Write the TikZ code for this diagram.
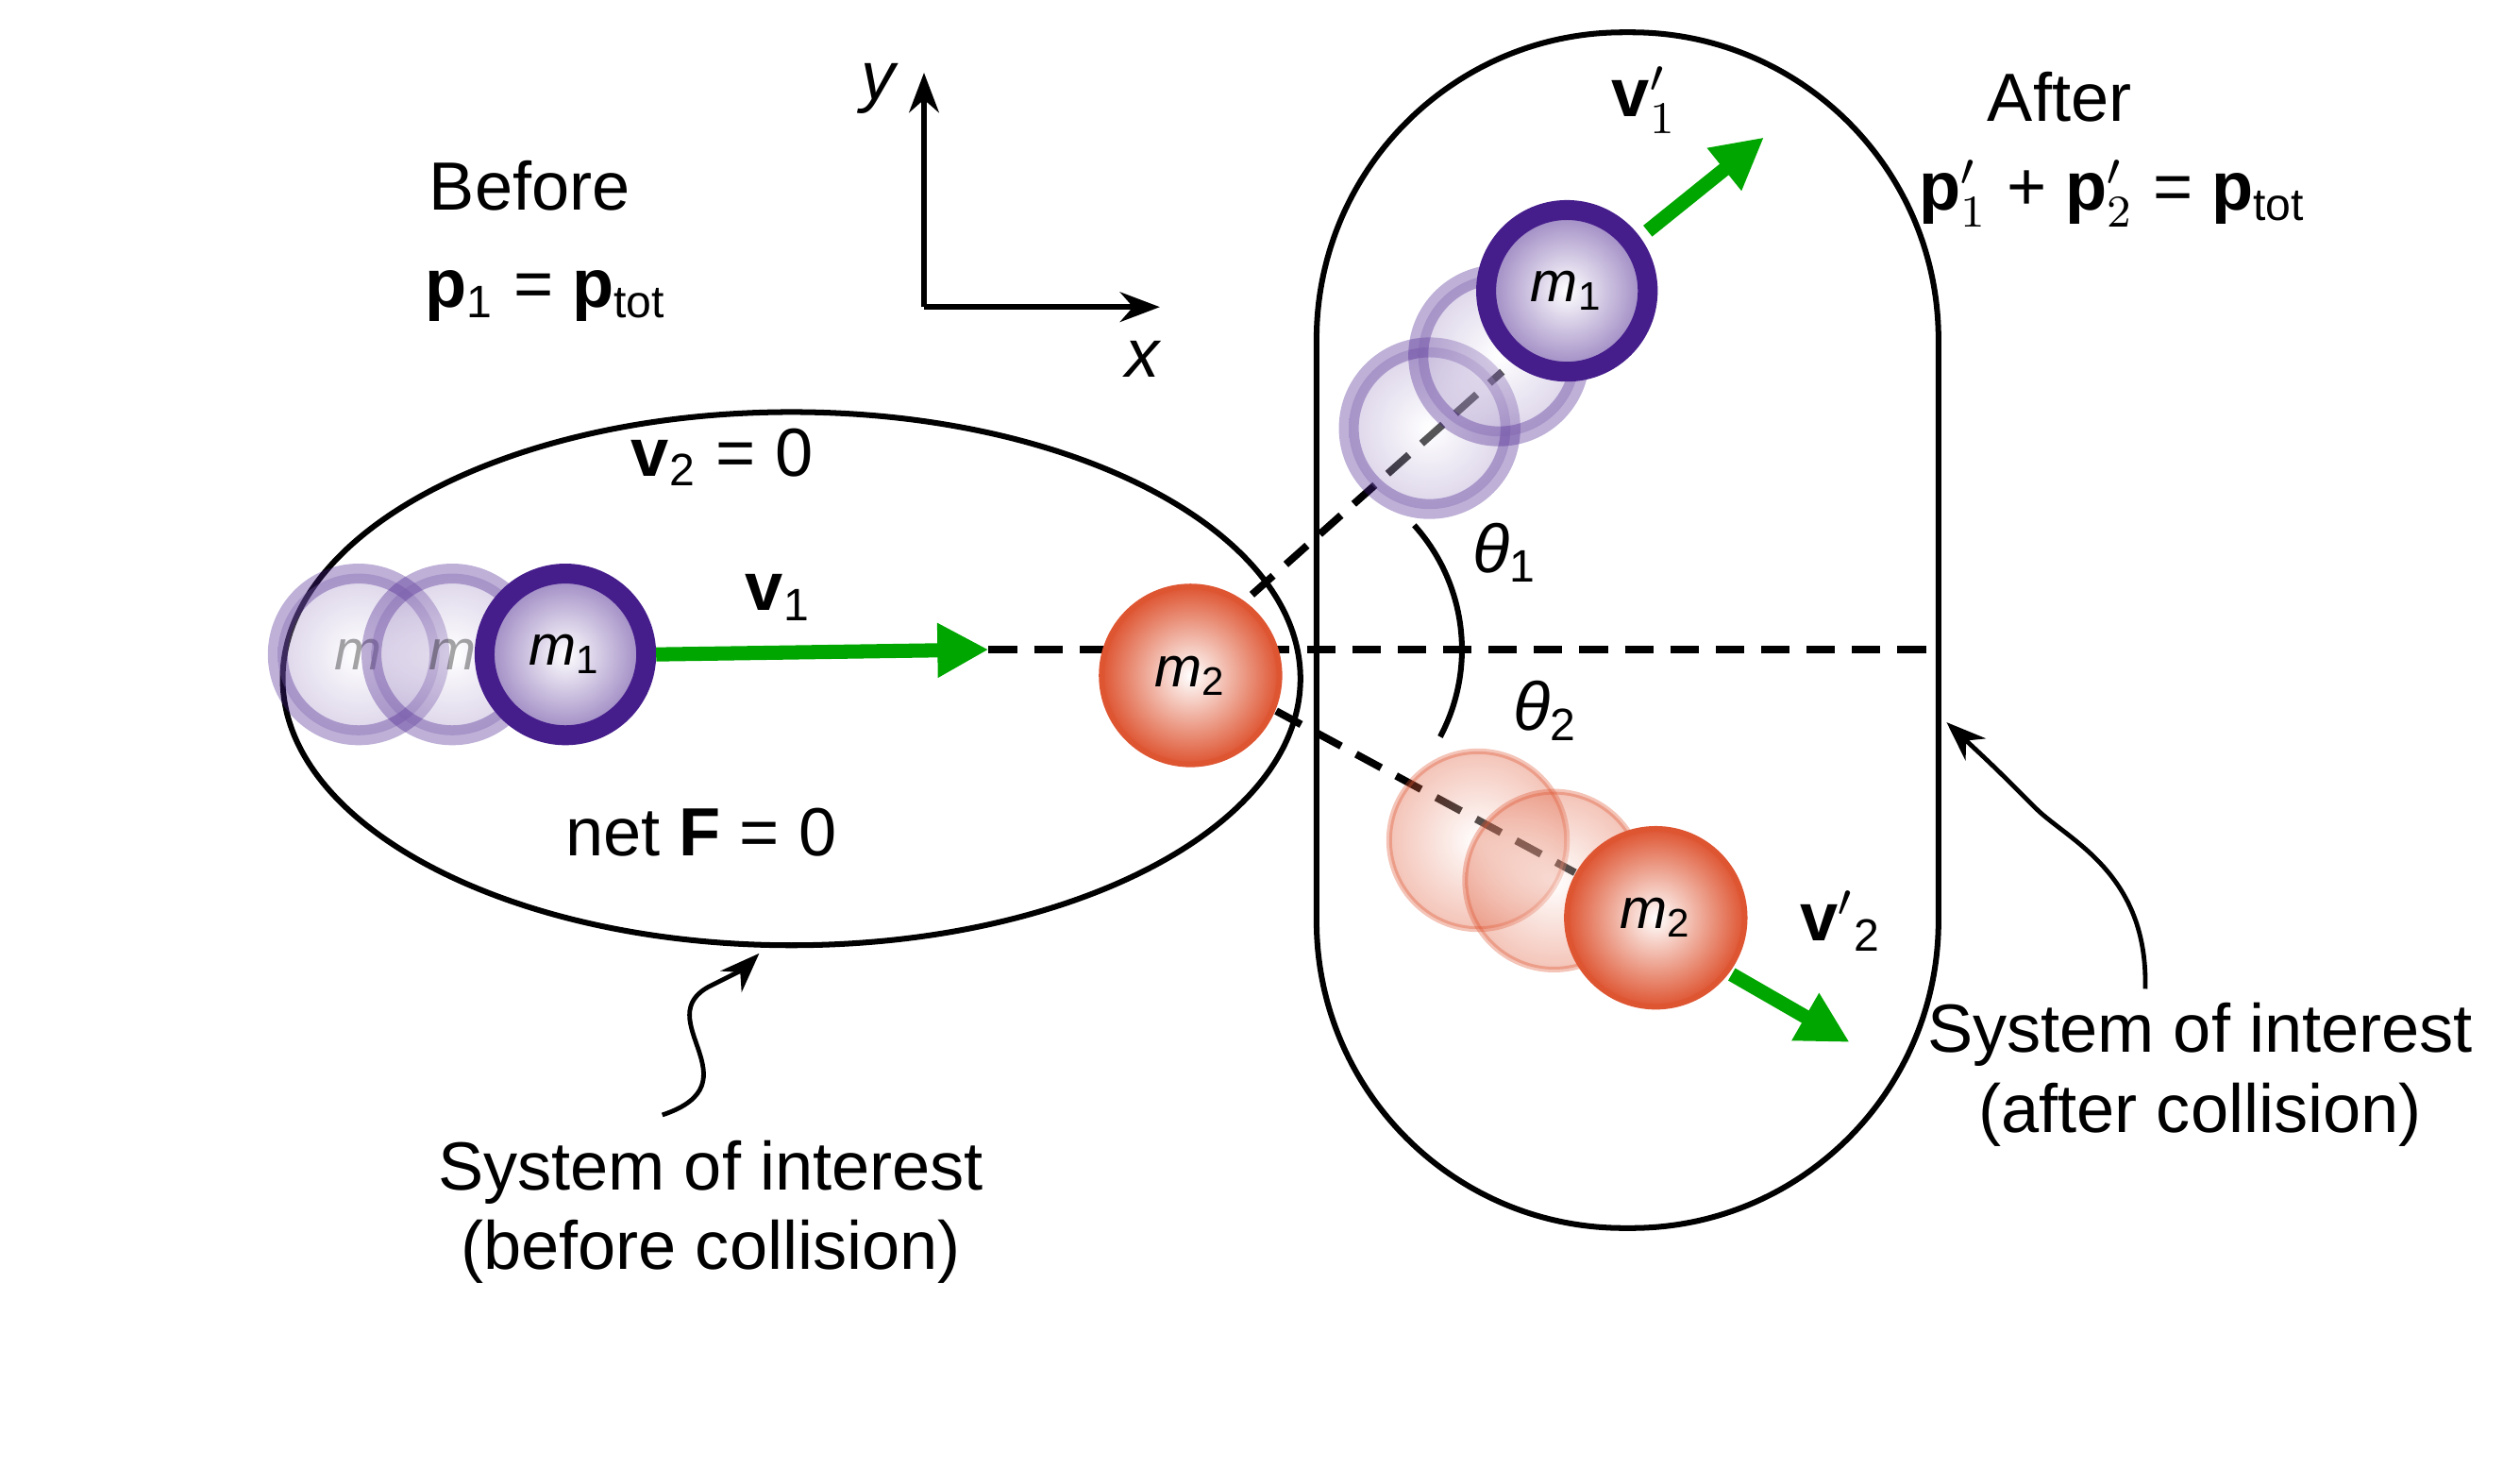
\documentclass[tikz,border=0pt]{standalone}
\usepackage{fontspec}
\setmainfont{Liberation Sans}
\usetikzlibrary{arrows.meta,decorations.pathmorphing}

\definecolor{indigoball}{RGB}{70,30,140}
\definecolor{orangeball}{RGB}{222,85,50}

\tikzset{
  lbl/.style={font=\fontsize{12}{14}\selectfont, align=center},
  ballP/.style={circle, minimum size=1.0cm, inner sep=0pt, draw=indigoball, line width=3.5pt,
    inner color=white, outer color=indigoball!55},
  ballO/.style={circle, minimum size=1.1cm, inner sep=0pt, draw=orangeball, line width=1pt,
    inner color=white, outer color=orangeball},
  ghost/.style={opacity=0.35},
  vel/.style={-{Triangle[length=9pt,width=9pt]}, line width=2.5pt, green!65!black},
  dsh/.style={dashed, line width=1.3pt, dash pattern=on 5pt off 3pt},
  pointer/.style={-{Stealth[length=7pt]}, line width=0.8pt},
}

\begin{document}
\begin{tikzpicture}[x=0.01cm, y=-0.01cm]
  \useasboundingbox (0,0) rectangle (1560,909);
  % axes
  \coordinate (o) at (572,190);
  \coordinate (yend) at (572,45);
  \coordinate (xend) at (718,190);
  \draw[pointer, line width=1pt] (o) -- (yend);
  \draw[pointer, line width=1pt] (o) -- (xend);
  \node[lbl] (ylab) at (545,55) {\textit{y}};
  \node[lbl] (xlab) at (708,222) {\textit{x}};
  % headings
  \node[lbl] (before) at (328,115) {Before};
  \node[lbl] (pbefore) at (338,183) {\textbf{p}\textsubscript{1} = \textbf{p}\textsubscript{tot}};
  \node[lbl] (after) at (1275,60) {After};
  \node[lbl] (pafter) at (1308,120) {\textbf{p}$'_1$ + \textbf{p}$'_2$ = \textbf{p}\textsubscript{tot}};
  % systems
  \draw[line width=1pt] (490,420) ellipse (315 and 165);
  \draw[line width=1pt, rounded corners=1.9cm] (815,20) rectangle (1200,760);
  \node[lbl] (v2zero) at (447,283) {\textbf{v}\textsubscript{2} = 0};
  \node[lbl] (netF) at (434,515) {net \textbf{F} = 0};
  % dashed lines
  \draw[dsh] (612,402) -- (1195,402);
  \draw[dsh] (775,368) -- (930,230);
  \draw[dsh] (790,440) -- (975,540);
  % angles
  \draw[line width=1pt] (905,402) arc (0:-42:115);
  \draw[line width=1pt] (905,402) arc (0:28:115);
  \node[lbl] (th1) at (932,342) {\textit{θ}\textsubscript{1}};
  \node[lbl] (th2) at (957,440) {\textit{θ}\textsubscript{2}};
  % incoming m1
  \node[ballP, ghost] (m1a) at (222,405) {\textit{m}};
  \node[ballP, ghost] (m1b) at (280,405) {\textit{m}};
  \node[ballP] (m1) at (350,405) {\textit{m}\textsubscript{1}};
  \draw[vel] (m1.east) -- (612,402);
  \node[lbl] (v1) at (482,370) {\textbf{v}\textsubscript{1}};
  % target m2
  \node[ballO] (m2) at (737,418) {\textit{m}\textsubscript{2}};
  % outgoing m1
  \node[ballP, ghost] (m1c) at (885,265) {};
  \node[ballP, ghost] (m1d) at (928,220) {};
  \node[ballP] (m1out) at (970,180) {\textit{m}\textsubscript{1}};
  \coordinate (v1tip) at (1092,85);
  \draw[vel] (1020,143) -- (v1tip);
  \node[lbl] (v1p) at (1018,62) {\textbf{v}$'_1$};
  % outgoing m2
  \node[ballO, ghost] (m2c) at (915,520) {};
  \node[ballO, ghost] (m2d) at (962,545) {};
  \node[ballO] (m2out) at (1025,568) {\textit{m}\textsubscript{2}};
  \coordinate (v2tip) at (1145,645);
  \draw[vel] (1072,603) -- (v2tip);
  \node[lbl] (v2p) at (1140,570) {\textbf{v}$'$\textsubscript{2}};
  % captions
  \node[lbl] (capB) at (440,750) {System of interest\\(before collision)};
  \node[lbl] (capA) at (1362,665) {System of interest\\(after collision)};
  \coordinate (ptB) at (470,590);
  \coordinate (ptA) at (1205,447);
  \draw[pointer] (410,690) .. controls (470,670) and (400,630) .. (440,610) .. controls (460,600) .. (ptB);
  \draw[pointer] (1328,612) .. controls (1330,540) and (1280,520) .. (1260,500) .. controls (1235,475) .. (ptA);
\end{tikzpicture}
\end{document}
